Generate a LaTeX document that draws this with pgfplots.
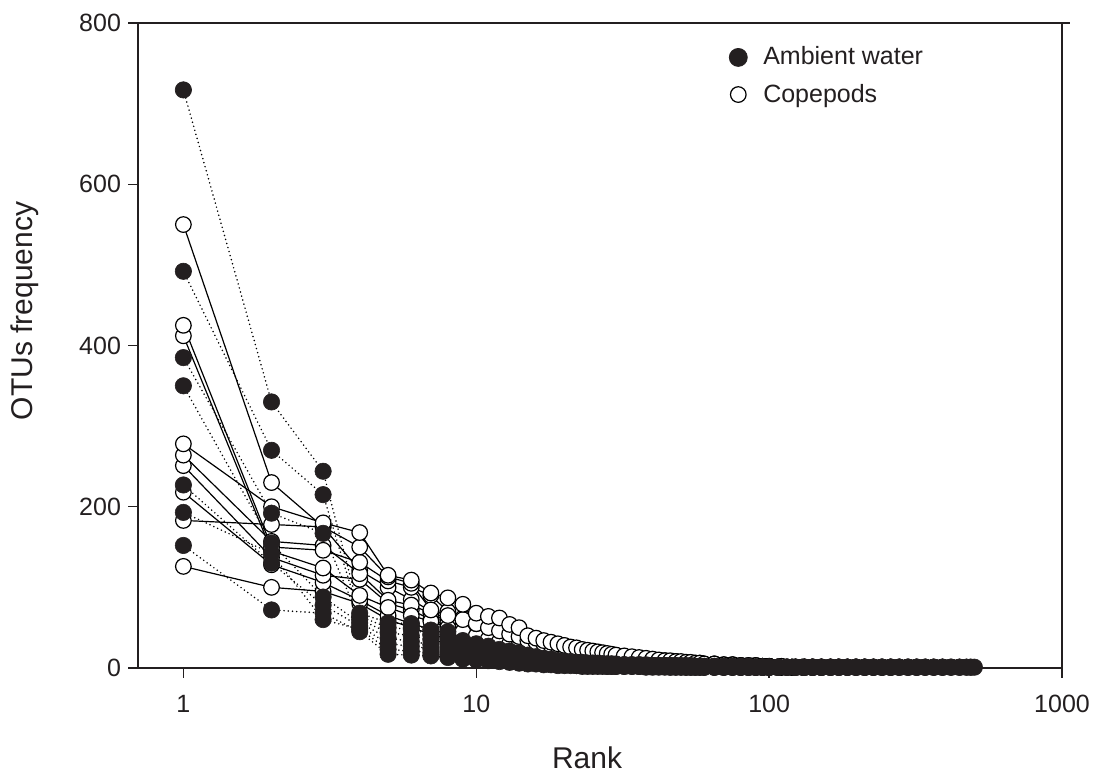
\documentclass[border=0pt]{standalone}
\usepackage{fontspec}
\setmainfont{Liberation Sans}
\usepackage{pgfplots}
\usepackage{pgfplotstable}
\pgfplotsset{compat=1.18}

\definecolor{ink}{RGB}{35,31,32}

% ambient water, OTUs frequency by rank
\pgfplotstableread{
r   a1  a2  a3  a4  a5  a6  a7
1   717 492 385 350 227 193 152
2   330 270 192 155 130 142 72
3   244 215 167 88  78  60  68
4   68  64  60  56  52  48  45
5   56  50  44  37  30  23  17
6   55  48  40  33  27  21  16
7   47  41  35  29  24  19  15
8   45  38  31  26  21  17  13
9   34  30  26  22  18  14  11
10  30  27  23  19  16  13  10
11  27  24  21  17  14  11  9
12  23  21  18  15  13  10  8
13  21  19  16  14  11  9   7
14  19  17  15  12  10  8   6
15  16  15  13  11  9   7   5
16  14  13  11  10  8   6   5
17  12  11  10  9   7   5   4
18  11  10  9   8   6   5   4
19  9   9   8   7   6   4   3
20  8   8   7   6   5   4   3
21  8   7   7   6   5   4   3
22  7   7   6   5   4   3   3
23  7   6   6   5   4   3   2
24  6   6   5   5   4   3   2
25  6   6   5   4   4   3   2
26  6   5   5   4   3   3   2
27  5   5   5   4   3   3   2
28  5   5   4   4   3   2   2
29  5   5   4   4   3   2   2
30  5   4   4   3   3   2   2
32  4   4   4   3   3   2   2
34  4   4   3   3   3   2   2
36  4   4   3   3   2   2   2
38  4   3   3   3   2   2   1
40  3   3   3   3   2   2   1
42  3   3   3   2   2   2   1
44  3   3   3   2   2   2   1
46  3   3   2   2   2   1   1
48  3   3   2   2   2   1   1
50  3   2   2   2   2   1   1
52  3   2   2   2   1   1   1
54  3   2   2   2   1   1   1
56  2   2   2   2   1   1   1
58  2   2   2   2   1   1   1
60  2   2   2   1   1   1   1
65  2   2   2   1   1   1   1
70  2   2   1   1   1   1   1
75  2   2   1   1   1   1   1
80  2   1   1   1   1   1   1
85  2   1   1   1   1   1   1
90  1   1   1   1   1   1   1
95  1   1   1   1   1   1   1
100 1   1   1   1   1   1   1
107 1   1   1   1   1   1   1
115 1   1   1   1   1   1   1
123 1   1   1   1   1   1   1
132 1   1   1   1   1   1   1
141 1   1   1   1   1   1   1
151 1   1   1   1   1   1   1
162 1   1   1   1   1   1   1
173 1   1   1   1   1   1   1
185 1   1   1   1   1   1   1
198 1   1   1   1   1   1   1
212 1   1   1   1   1   1   1
227 1   1   1   1   1   1   nan
243 1   1   1   1   1   1   nan
260 1   1   1   1   1   1   nan
278 1   1   1   1   1   nan nan
298 1   1   1   1   1   nan nan
319 1   1   1   1   1   nan nan
341 1   1   1   1   nan nan nan
365 1   1   1   1   nan nan nan
391 1   1   1   1   nan nan nan
418 1   1   1   nan nan nan nan
447 1   1   1   nan nan nan nan
472 1   1   nan nan nan nan nan
488 1   1   nan nan nan nan nan
502 1   nan nan nan nan nan nan
}\ambient

% copepods
\pgfplotstableread{
r   c1  c2  c3  c4  c5  c6  c7  c8  c9
1   550 425 412 278 264 251 218 183 126
2   230 150 145 200 157 137 128 178 100
3   175 146 124 180 152 115 106 175 95
4   150 131 90  168 117 110 84  121 80
5   113 108 75  115 84  80  65  100 60
6   105 100 65  109 78  72  55  85  50
7   72  90  58  93  68  60  48  70  42
8   65  70  50  87  57  52  42  60  36
9   60  62  45  79  50  46  37  52  32
10  55  55  40  68  45  41  33  46  28
11  50  52  36  64  41  37  30  42  25
12  46  48  33  62  38  34  27  38  23
13  42  44  30  54  35  31  25  35  21
14  39  40  28  50  32  28  23  32  19
15  34  35  26  40  30  26  21  30  17
16  32  33  24  37  28  24  19  28  16
17  30  31  22  34  26  22  18  26  15
18  28  29  20  32  24  20  17  24  14
19  27  27  19  30  22  19  16  22  13
20  25  25  18  28  21  18  15  21  12
21  24  24  17  26  20  17  14  20  11
22  23  23  16  25  19  16  13  19  11
23  22  22  15  23  18  15  12  18  10
24  21  21  14  22  17  14  12  17  10
25  20  20  14  21  16  14  11  16  9
26  19  19  13  20  15  13  11  15  9
27  18  18  12  19  14  12  10  14  8
28  17  17  12  18  14  12  10  14  8
29  16  16  11  17  13  11  9   13  7
30  15  15  11  16  12  11  9   12  7
32  14  14  10  15  11  10  8   11  6
34  13  13  9   14  10  9   7   10  6
36  12  12  8   13  9   8   7   9   5
38  11  11  8   12  9   8   6   9   5
40  10  10  7   11  8   7   6   8   5
42  9   9   7   10  8   7   5   7   4
44  9   9   6   9   7   6   5   7   4
46  8   8   6   9   7   6   5   6   4
48  8   8   6   8   6   5   4   6   3
50  7   7   5   8   6   5   4   5   3
52  7   7   5   7   5   5   4   5   3
54  6   6   5   7   5   4   3   5   3
56  6   6   4   6   5   4   3   4   3
58  6   6   4   6   4   4   3   4   2
60  5   5   4   5   4   3   3   4   2
65  5   5   3   5   4   3   2   3   2
70  4   4   3   4   3   3   2   3   2
75  4   4   3   4   3   2   2   3   2
80  3   3   2   3   3   2   2   2   1
85  3   3   2   3   2   2   2   2   1
90  3   3   2   3   2   2   1   2   1
95  2   2   2   2   2   2   1   2   1
100 2   2   2   2   2   1   1   1   1
110 2   2   1   2   1   1   1   1   nan
120 1   1   1   1   1   1   nan 1   nan
130 1   1   1   1   1   nan nan nan nan
140 1   1   nan 1   nan nan nan nan nan
150 1   nan nan 1   nan nan nan nan nan
}\copepods

\newcommand\tickfont{\fontsize{12.5}{15}\selectfont}
\newcommand\labfont{\fontsize{15}{18}\selectfont}

\pgfplotsset{
  cop/.style={black, line width=0.6pt, solid, mark=*, mark size=3.9pt,
    mark options={solid, fill=white, draw=black, line width=0.6pt}},
  amb/.style={black, line width=0.85pt, line cap=round, dash pattern=on 0pt off 2.1pt,
    mark=*, mark size=4.1pt, mark options={solid, fill=ink, draw=ink, line width=0.3pt}},
}

\begin{document}
\begin{tikzpicture}
\path[use as bounding box] (-69pt,-53pt) rectangle (477.5pt,334pt);
\begin{axis}[
    scale only axis, width=462pt, height=322.5pt,
    xmode=log, xmin=0.7, xmax=1000, ymin=0, ymax=800,
    xtick={1,10,100,1000}, xticklabels={1,10,100,1000},
    ytick={0,200,400,600,800}, yticklabels={0,200,400,600,800},
    xminorticks=false,
    tick align=outside, tick pos=left,
    major tick length=5pt,
    tick style={line width=0.7pt, ink},
    axis line style={line width=0.7pt, ink},
    tick label style={font=\tickfont, text=ink},
    xticklabel style={yshift=-5pt},
    xlabel={Rank}, ylabel={OTUs frequency},
    label style={font=\labfont, text=ink},
    xlabel style={at={(axis description cs:0.486,-0.1395)}, anchor=center},
    ylabel style={at={(axis description cs:-0.1223,0.5535)}, anchor=center},
    clip=false,
    legend style={at={(axis description cs:0.633,0.976)}, anchor=north west,
      draw=none, fill=none, font=\tickfont, text=ink, row sep=4pt, column sep=6pt},
    legend cell align=left,
]
\addlegendimage{only marks, mark=*, mark size=4.5pt, mark options={fill=ink, draw=ink}}
\addlegendentry{Ambient water}
\addlegendimage{only marks, mark=*, mark size=3.9pt, mark options={fill=white, draw=black, line width=0.6pt}}
\addlegendentry{Copepods}

\addplot[cop] table[x=r, y=c9] {\copepods};
\addplot[cop] table[x=r, y=c8] {\copepods};
\addplot[cop] table[x=r, y=c7] {\copepods};
\addplot[cop] table[x=r, y=c6] {\copepods};
\addplot[cop] table[x=r, y=c5] {\copepods};
\addplot[cop] table[x=r, y=c3] {\copepods};
\addplot[cop] table[x=r, y=c2] {\copepods};
\addplot[cop] table[x=r, y=c1] {\copepods};
\addplot[cop] table[x=r, y=c4] {\copepods};

\addplot[amb] table[x=r, y=a7] {\ambient};
\addplot[amb] table[x=r, y=a6] {\ambient};
\addplot[amb] table[x=r, y=a5] {\ambient};
\addplot[amb] table[x=r, y=a4] {\ambient};
\addplot[amb] table[x=r, y=a3] {\ambient};
\addplot[amb] table[x=r, y=a2] {\ambient};
\addplot[amb] table[x=r, y=a1] {\ambient};

\draw[line width=0.7pt, ink] (rel axis cs:1,1) -- ++(4pt,0pt);
\end{axis}
\end{tikzpicture}
\end{document}
